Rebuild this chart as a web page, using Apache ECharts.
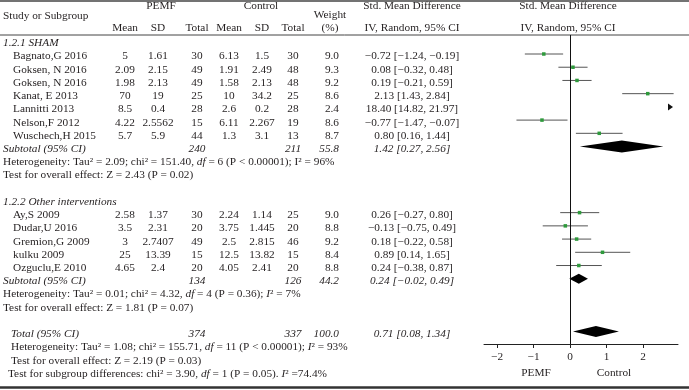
<!DOCTYPE html>
<html>
<head>
<meta charset="utf-8">
<script src="https://cdn.jsdelivr.net/npm/echarts@6/dist/echarts.min.js"></script>
<style>
html, body {margin: 0; padding: 0; background: #fff;}
#main {width: 689px; height: 390px;}
</style>
</head>
<body>
<div id="main"></div>
<script>
// study rows
var studyNames = ['Bagnato,G 2016', 'Goksen, N 2016', 'Goksen, N 2016', 'Kanat, E 2013', 'Lannitti 2013', 'Nelson,F 2012', 'Wuschech,H 2015',
    'Ay,S 2009', 'Dudar,U 2016', 'Gremion,G 2009', 'kulku 2009', 'Ozguclu,E 2010'];
var studyGroup = [0, 0, 0, 0, 0, 0, 0, 1, 1, 1, 1, 1];
var pemfMean = ['5', '2.09', '1.98', '70', '8.5', '4.22', '5.7', '2.58', '3.5', '3', '25', '4.65'];
var pemfSD = ['1.61', '2.15', '2.13', '19', '0.4', '2.5562', '5.9', '1.37', '2.31', '2.7407', '13.39', '2.4'];
var pemfTotal = [30, 49, 49, 25, 28, 15, 44, 30, 20, 49, 15, 20];
var ctrlMean = ['6.13', '1.91', '1.58', '10', '2.6', '6.11', '1.3', '2.24', '3.75', '2.5', '12.5', '4.05'];
var ctrlSD = ['1.5', '2.49', '2.13', '34.2', '0.2', '2.267', '3.1', '1.14', '1.445', '2.815', '13.82', '2.41'];
var ctrlTotal = [30, 48, 48, 25, 28, 19, 13, 25, 20, 46, 15, 20];
var weight = ['9.0', '9.3', '9.2', '8.6', '2.4', '8.6', '8.7', '9.0', '8.8', '9.2', '8.4', '8.8'];
var smd = [-0.72, 0.08, 0.19, 2.13, 18.40, -0.77, 0.80, 0.26, -0.13, 0.18, 0.89, 0.24];
var smdLow = [-1.24, -0.32, -0.21, 1.43, 14.82, -1.47, 0.16, -0.27, -0.75, -0.22, 0.14, -0.38];
var smdHigh = [-0.19, 0.48, 0.59, 2.84, 21.97, -0.07, 1.44, 0.80, 0.49, 0.58, 1.65, 0.87];

// subgroups
var groupNames = ['1.2.1 SHAM', '1.2.2 Other interventions'];
var groupPemf = [240, 134];
var groupCtrl = [211, 126];
var groupWeight = ['55.8', '44.2'];
var groupSmd = [1.42, 0.24];
var groupLow = [0.27, -0.02];
var groupHigh = [2.56, 0.49];
var groupHet = ['Heterogeneity: Tau² = 2.09; chi² = 151.40, {i|df} = 6 (P < 0.00001); I² = 96%',
    'Heterogeneity: Tau² = 0.01; chi² = 4.32, {i|df} = 4 (P = 0.36); {i|I}² = 7%'];
var groupTest = ['Test for overall effect: Z = 2.43 (P = 0.02)', 'Test for overall effect: Z = 1.81 (P = 0.07)'];

// overall
var totalPemf = 374, totalCtrl = 337, totalWeight = '100.0';
var totalSmd = 0.71, totalLow = 0.08, totalHigh = 1.34;
var totalHet = 'Heterogeneity: Tau² = 1.08; chi² = 155.71, {i|df} = 11 (P < 0.00001); {i|I}² = 93%';
var totalTest = 'Test for overall effect: Z = 2.19 (P = 0.03)';
var subgroupTest = 'Test for subgroup differences: chi² = 3.90, {i|df} = 1 (P = 0.05). {i|I}² =74.4%';
var xTicks = [-2, -1, 0, 1, 2];

// layout
var ROW0 = 54, PITCH = 13.22, TXT = 2.5;
var X_MIN = -2.36, X_MAX = 2.96;
var GRID_TOP = 35, AXIS_Y = 344;
var groupStart = [-1, 11];
var FONT = '"Liberation Serif", "DejaVu Serif", serif';
var FS = 11.3;
var INK = '#231f20';

function rowY(r) { return ROW0 + PITCH * r; }
function studyRow(i) {
    var g = studyGroup[i], k = 0;
    for (var j = 0; j < i; j++) if (studyGroup[j] === g) k++;
    return groupStart[g] + 1 + k;
}
function groupRow(g) {
    var n = 0;
    for (var j = 0; j < studyGroup.length; j++) if (studyGroup[j] === g) n++;
    return groupStart[g] + 1 + n;
}
function fmt(v) { return v.toFixed(2).replace(/-/g, '−'); }
function ci(e, l, h) { return fmt(e) + ' [' + fmt(l) + ', ' + fmt(h) + ']'; }

var richI = {i: {fontStyle: 'italic', fontFamily: FONT, fontSize: FS, fill: INK}};
function txt(x, y, s, align, italic) {
    return {
        type: 'text', silent: true,
        style: {
            text: s, x: x, y: y, fill: INK, fontFamily: FONT, fontSize: FS,
            fontStyle: italic ? 'italic' : 'normal', align: align || 'left', verticalAlign: 'middle', rich: richI
        }
    };
}

var col = {mean1: 125, sd1: 158, tot1: 197, mean2: 229, sd2: 262, tot2: 293, wt: 339, ci: 412};
var g = [];
// header
g.push(txt(3, 16, 'Study or Subgroup'));
g.push(txt(161, 6, 'PEMF', 'center'));
g.push(txt(261, 6, 'Control', 'center'));
g.push(txt(330, 15, 'Weight', 'center'));
g.push(txt(330, 28, '(%)', 'center'));
g.push(txt(412, 6, 'Std. Mean Difference', 'center'));
g.push(txt(412, 28, 'IV, Random, 95% CI', 'center'));
g.push(txt(568, 6, 'Std. Mean Difference', 'center'));
g.push(txt(568, 28, 'IV, Random, 95% CI', 'center'));
[['Mean', col.mean1], ['SD', col.sd1], ['Total', col.tot1], ['Mean', col.mean2], ['SD', col.sd2], ['Total', col.tot2]].forEach(function (h) {
    g.push(txt(h[1], 28, h[0], 'center'));
});

// studies
studyNames.forEach(function (name, i) {
    var y = rowY(studyRow(i)) + TXT;
    g.push(txt(13, y, name));
    g.push(txt(col.mean1, y, pemfMean[i], 'center'));
    g.push(txt(col.sd1, y, pemfSD[i], 'center'));
    g.push(txt(col.tot1, y, String(pemfTotal[i]), 'center'));
    g.push(txt(col.mean2, y, ctrlMean[i], 'center'));
    g.push(txt(col.sd2, y, ctrlSD[i], 'center'));
    g.push(txt(col.tot2, y, String(ctrlTotal[i]), 'center'));
    g.push(txt(col.wt, y, weight[i], 'right'));
    g.push(txt(col.ci, y, ci(smd[i], smdLow[i], smdHigh[i]), 'center'));
});

// subgroups
groupNames.forEach(function (name, k) {
    g.push(txt(3, rowY(groupStart[k]) + TXT, name, 'left', true));
    var r = groupRow(k), y = rowY(r) + TXT;
    g.push(txt(3, y, 'Subtotal (95% CI)', 'left', true));
    g.push(txt(col.tot1, y, String(groupPemf[k]), 'center', true));
    g.push(txt(col.tot2, y, String(groupCtrl[k]), 'center', true));
    g.push(txt(col.wt, y, groupWeight[k], 'right', true));
    g.push(txt(col.ci, y, ci(groupSmd[k], groupLow[k], groupHigh[k]), 'center', true));
    g.push(txt(3, rowY(r + 1) + TXT, groupHet[k]));
    g.push(txt(3, rowY(r + 2) + TXT, groupTest[k]));
});

// overall
var totalRow = groupRow(1) + 4;
var ty = rowY(totalRow) + TXT;
g.push(txt(11, ty, 'Total (95% CI)', 'left', true));
g.push(txt(col.tot1, ty, String(totalPemf), 'center', true));
g.push(txt(col.tot2, ty, String(totalCtrl), 'center', true));
g.push(txt(col.wt, ty, totalWeight, 'right', true));
g.push(txt(col.ci, ty, ci(totalSmd, totalLow, totalHigh), 'center', true));
g.push(txt(11, rowY(totalRow + 1) + TXT, totalHet));
g.push(txt(11, rowY(totalRow + 2) + TXT, totalTest));
g.push(txt(8, rowY(totalRow + 3) + TXT, subgroupTest));
g.push(txt(536, 373, 'PEMF', 'center'));
g.push(txt(614, 373, 'Control', 'center'));

// rules
g.push({type: 'line', silent: true, shape: {x1: 0, y1: 1, x2: 689, y2: 1}, style: {stroke: '#444', lineWidth: 1.5}});
g.push({type: 'line', silent: true, shape: {x1: 0, y1: GRID_TOP, x2: 689, y2: GRID_TOP}, style: {stroke: '#444', lineWidth: 1}});
g.push({type: 'line', silent: true, shape: {x1: 0, y1: 387.5, x2: 689, y2: 387.5}, style: {stroke: '#333', lineWidth: 2.5}});

var studyData = studyNames.map(function (n, i) { return [studyRow(i), smd[i], smdLow[i], smdHigh[i]]; });
var diamondData = groupNames.map(function (n, k) { return [groupRow(k), groupSmd[k], groupLow[k], groupHigh[k], 6]; });
diamondData[1][4] = 5;
diamondData.push([totalRow, totalSmd, totalLow, totalHigh, 5.5]);

var chart = echarts.init(document.getElementById('main'));
chart.setOption({
    animation: false,
    backgroundColor: '#fff',
    grid: {left: 484, right: 11, top: GRID_TOP, bottom: 390 - AXIS_Y, outerBoundsMode: 'none'},
    xAxis: {
        type: 'value', min: X_MIN, max: X_MAX,
        splitLine: {show: false},
        axisLine: {onZero: false, lineStyle: {color: '#222', width: 1}},
        axisTick: {show: true, length: 4, customValues: xTicks, lineStyle: {color: '#222'}},
        axisLabel: {
            customValues: xTicks, margin: 8, color: INK, fontFamily: FONT, fontSize: FS,
            formatter: function (v) { return String(v).replace('-', '−'); }
        }
    },
    yAxis: {
        type: 'value', inverse: true, show: false,
        min: (GRID_TOP - ROW0) / PITCH, max: (AXIS_Y - ROW0) / PITCH
    },
    graphic: g,
    series: [
        {
            type: 'custom', silent: true, data: studyData,
            renderItem: function (params, api) {
                var r = api.value(0), est = api.value(1), lo = api.value(2), hi = api.value(3);
                if (lo > X_MAX) {
                    var p = api.coord([X_MAX, r]);
                    return {type: 'polygon', shape: {points: [[p[0] - 10, p[1] - 3.5], [p[0] - 5, p[1]], [p[0] - 10, p[1] + 3.5]]}, style: {fill: '#111'}};
                }
                var a = api.coord([lo, r]), b = api.coord([hi, r]), c = api.coord([est, r]);
                return {
                    type: 'group', children: [
                        {type: 'line', shape: {x1: a[0], y1: a[1], x2: b[0], y2: b[1]}, style: {stroke: '#555', lineWidth: 1}},
                        {type: 'rect', shape: {x: c[0] - 1.75, y: c[1] - 1.75, width: 3.5, height: 3.5}, style: {fill: '#2e9a3c'}}
                    ]
                };
            },
            markLine: {
                silent: true, symbol: 'none', label: {show: false},
                lineStyle: {color: '#111', type: 'solid', width: 1},
                data: [{xAxis: 0}]
            }
        },
        {
            type: 'custom', silent: true, data: diamondData,
            renderItem: function (params, api) {
                var r = api.value(0), h = api.value(4);
                var a = api.coord([api.value(2), r]), b = api.coord([api.value(3), r]), c = api.coord([api.value(1), r]);
                return {
                    type: 'polygon',
                    shape: {points: [[a[0], a[1]], [c[0], c[1] - h], [b[0], b[1]], [c[0], c[1] + h]]},
                    style: {fill: '#000'}
                };
            }
        }
    ]
});
</script>
</body>
</html>
